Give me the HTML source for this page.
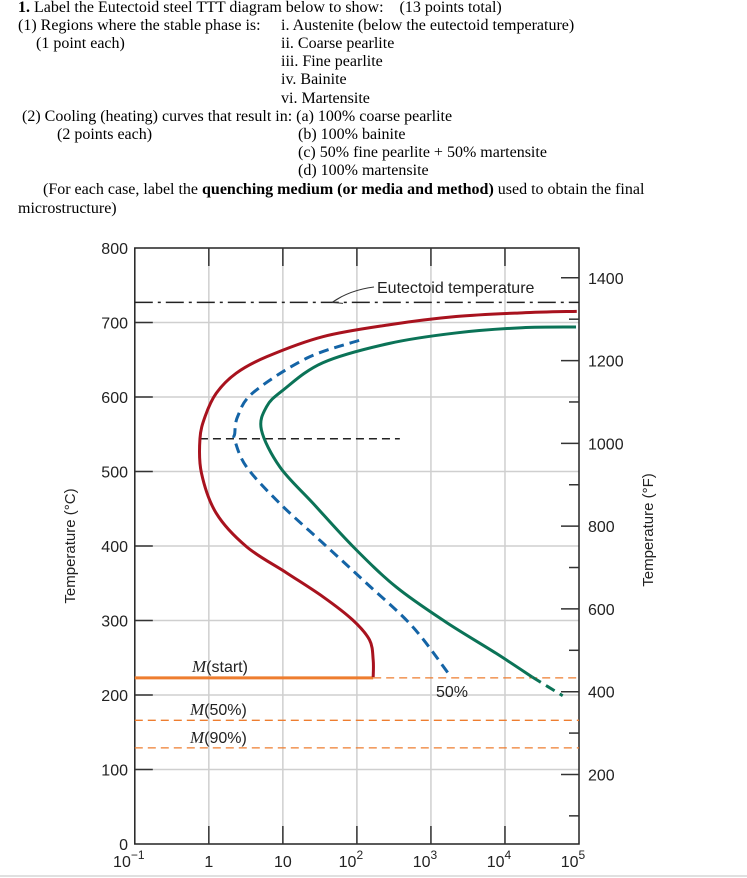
<!DOCTYPE html>
<html><head><meta charset="utf-8"><style>
html,body{margin:0;padding:0;background:#fff;}
body{width:747px;height:878px;position:relative;overflow:hidden;font-family:"Liberation Serif",serif;font-size:16px;color:#000;}
.t{position:absolute;white-space:nowrap;line-height:18px;}
svg{position:absolute;left:0;top:0;}
svg text{font-family:"Liberation Sans",sans-serif;}
</style></head><body>
<div class="t" style="left:18px;top:-1px"><b>1.</b> Label the Eutectoid steel TTT diagram below to show:&nbsp;&nbsp;&nbsp;&nbsp;(13 points total)</div>
<div class="t" style="left:18px;top:17px">(1) Regions where the stable phase is:</div>
<div class="t" style="left:281px;top:17px">i. Austenite (below the eutectoid temperature)</div>
<div class="t" style="left:36px;top:35px">(1 point each)</div>
<div class="t" style="left:281px;top:35px">ii. Coarse pearlite</div>
<div class="t" style="left:281px;top:53px">iii. Fine pearlite</div>
<div class="t" style="left:281px;top:71px">iv. Bainite</div>
<div class="t" style="left:281px;top:90px">vi. Martensite</div>
<div class="t" style="left:22px;top:108px">(2) Cooling (heating) curves that result in: (a) 100% coarse pearlite</div>
<div class="t" style="left:57px;top:126px">(2 points each)</div>
<div class="t" style="left:298px;top:126px">(b) 100% bainite</div>
<div class="t" style="left:298px;top:144px">(c) 50% fine pearlite + 50% martensite</div>
<div class="t" style="left:298px;top:162px">(d) 100% martensite</div>
<div class="t" style="left:43px;top:181px">(For each case, label the <b>quenching medium (or media and method)</b> used to obtain the final</div>
<div class="t" style="left:18px;top:200px">microstructure)</div>

<svg id="chart" width="747" height="878"></svg>
<script>
// ---- data ----
const tempTicksC = [0,100,200,300,400,500,600,700,800];
const decadeExps = [-1,0,1,2,3,4,5];
const decadeLabels = ["10","1","10","10","10","10","10"];
const decadeSups = ["−1","","","2","3","4","5"];
const tempTicksF = [100,200,300,400,500,600,700,800,900,1000,1100,1200,1300,1400];
// curves: [log10 time (s), temperature °C]
const startLogT = [4.97,4.23,3.34,2.44,1.54,0.78,0.37,0.10,-0.05,-0.12,-0.10,0.10,0.51,1.05,1.54,1.94,2.17,2.22,2.22];
const startTemp = [715,713,708,697,681,654,632,605,574,544,498,444,399,364,332,301,274,247,224];
const midLogT = [2.03,1.32,0.60,0.39,0.35,0.35,0.51,0.96,1.54,2.13,2.75,3.25];
const midTemp = [676,652,606,574,551,542,506,457,404,350,292,227];
const finishLogT = [4.96,4.23,3.34,2.44,1.54,1.00,0.78,0.71,0.96,1.41,1.95,2.53,3.20,3.88,4.37];
const finishTemp = [694,693,686,672,646,609,587,556,506,457,399,345,298,256,224];
const finishExtLogT = [4.37,4.78];
const finishExtTemp = [224,199];
const eutectoidT = 727;
const noseT = 544, noseLogStart = -0.12, noseLogEnd = 2.58;
const mStart = 223, m50 = 166, m90 = 129;
const mStartEndLog = 2.22;

// ---- axes ----
const L=134.8,R=579,T0=844,TOP=248;
const x = lt => L + (lt+1)*(R-L)/6;
const y = c => T0 - c*(T0-TOP)/800;
const yF = f => y((f-32)*5/9);
const NS="http://www.w3.org/2000/svg";
const svg=document.getElementById('chart');
function el(tag,attrs,parent){const e=document.createElementNS(NS,tag);for(const k in attrs)e.setAttribute(k,attrs[k]);(parent||svg).appendChild(e);return e;}
function smooth(lx,ty){const p=lx.map((v,i)=>[x(v),y(ty[i])]);let d=`M${p[0][0]},${p[0][1]}`;
 for(let i=0;i<p.length-1;i++){const p0=p[i-1]||p[i],p1=p[i],p2=p[i+1],p3=p[i+2]||p2;
  d+=` C${p1[0]+(p2[0]-p0[0])/6},${p1[1]+(p2[1]-p0[1])/6} ${p2[0]-(p3[0]-p1[0])/6},${p2[1]-(p3[1]-p1[1])/6} ${p2[0]},${p2[1]}`;}return d;}

// grid
tempTicksC.forEach(c=>{if(c>0&&c<800){const g=el('line',{x1:L,x2:R,y1:y(c),y2:y(c),stroke:'#cfcfcf','stroke-width':1.5});
}});
decadeExps.forEach(e=>{if(e>-1&&e<5){const g=el('line',{x1:x(e),x2:x(e),y1:TOP,y2:T0,stroke:'#cfcfcf','stroke-width':1.5});
}});

// frame
const fr=el('rect',{x:L,y:TOP,width:R-L,height:T0-TOP,fill:'none',stroke:'#222','stroke-width':1.5});


// left ticks & labels
tempTicksC.forEach(c=>{
 if(c>0&&c<800){const tk=el('line',{x1:L,x2:L+18,y1:y(c),y2:y(c),stroke:'#333','stroke-width':1.5});
 }
 const t=el('text',{x:128,y:y(c)+6,'text-anchor':'end','font-size':16,fill:'#222'});t.textContent=c;
 
});
// top/bottom ticks & x labels
decadeExps.forEach((e,i)=>{
 if(e>-1&&e<5){
  const a=el('line',{x1:x(e),x2:x(e),y1:TOP,y2:TOP+18,stroke:'#333','stroke-width':1.5});
  
  const b=el('line',{x1:x(e),x2:x(e),y1:T0-18,y2:T0,stroke:'#333','stroke-width':1.5});
  }
 const t=el('text',{x:x(e)-(decadeSups[i]?6:0),y:867,'text-anchor':'middle','font-size':16,fill:'#222'});
 t.textContent=decadeLabels[i];
 if(decadeSups[i]){const s=el('tspan',{dy:-8,'font-size':12},t);s.textContent=decadeSups[i];}
 
});
// right F axis
tempTicksF.forEach(f=>{
 const major=f%200===0;
 const tk=el('line',{x1:R-(major?18:10),x2:R,y1:yF(f),y2:yF(f),stroke:'#333','stroke-width':1.5});
 
 if(major){const t=el('text',{x:588,y:yF(f)+6,'font-size':16,fill:'#222'});t.textContent=f;
 }
});
// axis titles
const yt=el('text',{x:0,y:0,'font-size':15,fill:'#222','text-anchor':'middle',transform:'translate(75,546) rotate(-90)'});
yt.textContent='Temperature (°C)';
const ft=el('text',{x:0,y:0,'font-size':15,fill:'#222','text-anchor':'middle',transform:'translate(653,530) rotate(-90)'});
ft.textContent='Temperature (°F)';

// eutectoid line
const eu=el('line',{x1:L,x2:R,y1:y(eutectoidT),y2:y(eutectoidT),stroke:'#222','stroke-width':1.5,'stroke-dasharray':'18,5,3,5'});

const ar=el('path',{d:`M374,287 Q350,290 332,${y(eutectoidT)} M332,${y(eutectoidT)} l10,-6 M332,${y(eutectoidT)} l11,1`,fill:'none',stroke:'#333','stroke-width':1});

const el1=el('text',{x:377,y:293,'font-size':16,fill:'#222'});el1.textContent='Eutectoid temperature';


// martensite lines
const ms=el('line',{x1:L,x2:x(mStartEndLog),y1:y(mStart),y2:y(mStart),stroke:'#ee7d2f','stroke-width':3});

const msd=el('line',{x1:x(mStartEndLog),x2:R,y1:y(mStart),y2:y(mStart),stroke:'#ee7d2f','stroke-width':1.3,'stroke-dasharray':'8,5'});

[[m50,'m50-line'],[m90,'m90-line']].forEach(([v,n])=>{
 const l=el('line',{x1:L,x2:R,y1:y(v),y2:y(v),stroke:'#ee7d2f','stroke-width':1.3,'stroke-dasharray':'8,5'});
 
});
[['(start)',192,672,'m-start-label'],['(50%)',190,715,'m50-label'],['(90%)',190,743,'m90-label']].forEach(([s,xx,yy,n])=>{
 const t=el('text',{x:xx,y:yy,'font-size':16,fill:'#222'});
 const m=el('tspan',{'font-family':'Liberation Serif, serif','font-style':'italic','font-size':17},t);m.textContent='M';
 const r=el('tspan',{},t);r.textContent=s;
 
});

// nose dashed line
const nl=el('line',{x1:x(noseLogStart),x2:x(noseLogEnd),y1:y(noseT),y2:y(noseT),stroke:'#222','stroke-width':1.5,'stroke-dasharray':'8,5'});


// curves
const c1=el('path',{d:smooth(startLogT,startTemp),fill:'none',stroke:'#a8121e','stroke-width':3});

const c2=el('path',{d:smooth(midLogT,midTemp),fill:'none',stroke:'#1464a6','stroke-width':3,'stroke-dasharray':'10,6'});

const c3=el('path',{d:smooth(finishLogT,finishTemp),fill:'none',stroke:'#0b7357','stroke-width':3});

const c4=el('path',{d:smooth(finishExtLogT,finishExtTemp),fill:'none',stroke:'#0b7357','stroke-width':3,'stroke-dasharray':'10,6'});

const p50=el('text',{x:436,y:697,'font-size':16,fill:'#222'});p50.textContent='50%';

const bl=el('line',{x1:0,x2:747,y1:876,y2:876,stroke:'#e0e0e0','stroke-width':2});

</script>
</body></html>
